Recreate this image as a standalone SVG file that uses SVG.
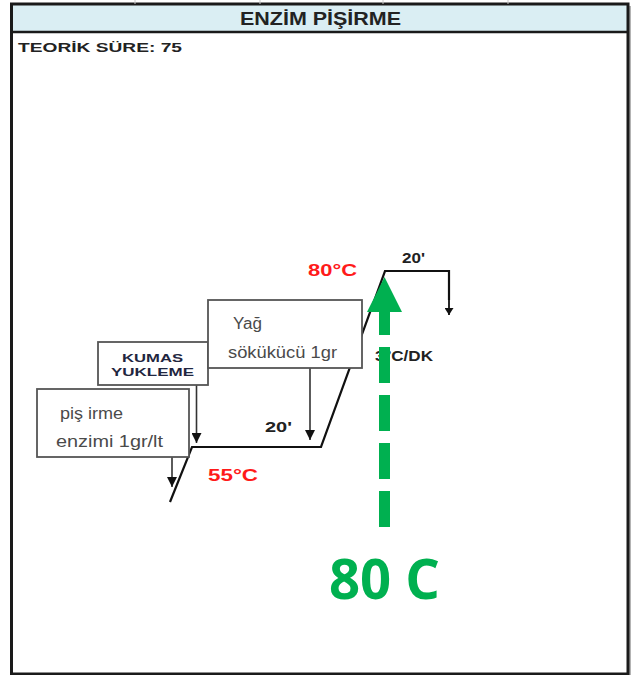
<svg xmlns="http://www.w3.org/2000/svg" width="639" height="675" viewBox="0 0 639 675">
<style>
  .frame{fill:none;stroke:#1a1a1a;stroke-width:3}
  .hdr{fill:#daeef3}
  .b{font-family:"Liberation Sans",Arial,sans-serif;font-weight:bold}
  .r{font-family:"Liberation Sans",Arial,sans-serif;fill:#4a4a4a}
  .box{fill:#ffffff;stroke:#555555;stroke-width:1.8}
  .prof{fill:none;stroke:#111111;stroke-width:2.2}
  .arr{fill:none;stroke:#333333;stroke-width:1.6}
  .red{fill:#ff1a1a}
  .dk{fill:#222222}
</style>
<defs>
  <marker id="ah" markerWidth="10" markerHeight="10" refX="10" refY="5" orient="auto" markerUnits="userSpaceOnUse" viewBox="0 0 10 10">
    <path d="M0,0 L10,5 L0,10 Z" fill="#111111"/>
  </marker>
  <marker id="ahs" markerWidth="7" markerHeight="9" refX="7" refY="4.5" orient="auto" markerUnits="userSpaceOnUse" viewBox="0 0 7 9">
    <path d="M0,0 L7,4.5 L0,9 Z" fill="#111111"/>
  </marker>
</defs>
<rect x="0" y="0" width="639" height="675" fill="#ffffff"/>
<g id="frame">
  <rect class="hdr" x="12" y="4" width="616" height="28"/>
  <line x1="630" y1="6" x2="630" y2="675" stroke="#9a9a9a" stroke-width="1.5"/>
  <rect class="frame" x="11.5" y="4" width="616.5" height="670"/>
  <line x1="11.5" y1="32" x2="628" y2="32" stroke="#1a1a1a" stroke-width="2.5"/>
  <g stroke="#c8c8c8" stroke-width="1">
    <line x1="135" y1="0" x2="135" y2="4"/>
    <line x1="260" y1="0" x2="260" y2="4"/>
    <line x1="383" y1="0" x2="383" y2="4"/>
    <line x1="508" y1="0" x2="508" y2="4"/>
  </g>
  <text class="b dk" x="240" y="24.5" font-size="17.5" textLength="161" lengthAdjust="spacingAndGlyphs">ENZİM PİŞİRME</text>
  <text class="b dk" x="18" y="52" font-size="13" textLength="164" lengthAdjust="spacingAndGlyphs">TEORİK SÜRE: 75</text>
</g>
<g id="connectors">
  <polyline class="prof" points="170,502 192,447 321,447 385,271 449,271 449,300"/>
  <line x1="449" y1="290" x2="449" y2="315" stroke="#111111" stroke-width="1.8" marker-end="url(#ahs)"/>
  <line class="arr" x1="172" y1="457" x2="172" y2="487" marker-end="url(#ah)"/>
  <line class="arr" x1="196.5" y1="385" x2="196.5" y2="443" marker-end="url(#ah)"/>
  <line class="arr" x1="310" y1="368" x2="310" y2="440" marker-end="url(#ah)"/>
</g>
<g id="node-kumas">
  <rect class="box" x="98" y="342" width="110" height="43"/>
  <text class="b" fill="#1f2640" x="122" y="362" font-size="11.5" textLength="61" lengthAdjust="spacingAndGlyphs">KUMAS</text>
  <text class="b" fill="#1f2640" x="111" y="376" font-size="11.5" textLength="83" lengthAdjust="spacingAndGlyphs">YUKLEME</text>
</g>
<g id="node-pisirme">
  <rect class="box" x="37" y="389" width="152" height="68"/>
  <text class="r" x="60" y="419" font-size="16" textLength="63" lengthAdjust="spacingAndGlyphs">piş irme</text>
  <text class="r" x="56" y="447" font-size="16" textLength="107" lengthAdjust="spacingAndGlyphs">enzimi 1gr/lt</text>
</g>
<g id="node-yag">
  <rect class="box" x="208" y="300" width="154" height="68"/>
  <text class="r" x="233" y="329" font-size="16" textLength="29" lengthAdjust="spacingAndGlyphs">Yağ</text>
  <text class="r" x="228" y="358" font-size="16" textLength="109" lengthAdjust="spacingAndGlyphs">sökükücü 1gr</text>
</g>
<g id="labels">
  <text class="b red" x="308" y="276" font-size="17" textLength="49" lengthAdjust="spacingAndGlyphs">80°C</text>
  <text class="b red" x="208" y="481" font-size="17" textLength="50" lengthAdjust="spacingAndGlyphs">55°C</text>
  <text class="b dk" x="265" y="432" font-size="15" textLength="27" lengthAdjust="spacingAndGlyphs">20'</text>
  <text class="b dk" x="402" y="263" font-size="15" textLength="23" lengthAdjust="spacingAndGlyphs">20'</text>
  <text class="b dk" x="375" y="361" font-size="15" textLength="58" lengthAdjust="spacingAndGlyphs">3°C/DK</text>
</g>
<g id="green-arrow">
  <line x1="384.5" y1="527" x2="384.5" y2="311" stroke="#00b050" stroke-width="11" stroke-dasharray="36 12"/>
  <polygon points="384.5,277 402,312 367,312" fill="#00b050"/>
  <text x="329" y="599" font-family="'Open Sans',sans-serif" font-weight="bold" font-size="56" fill="#00b050" textLength="111" lengthAdjust="spacingAndGlyphs">80 C</text>
</g>
</svg>
